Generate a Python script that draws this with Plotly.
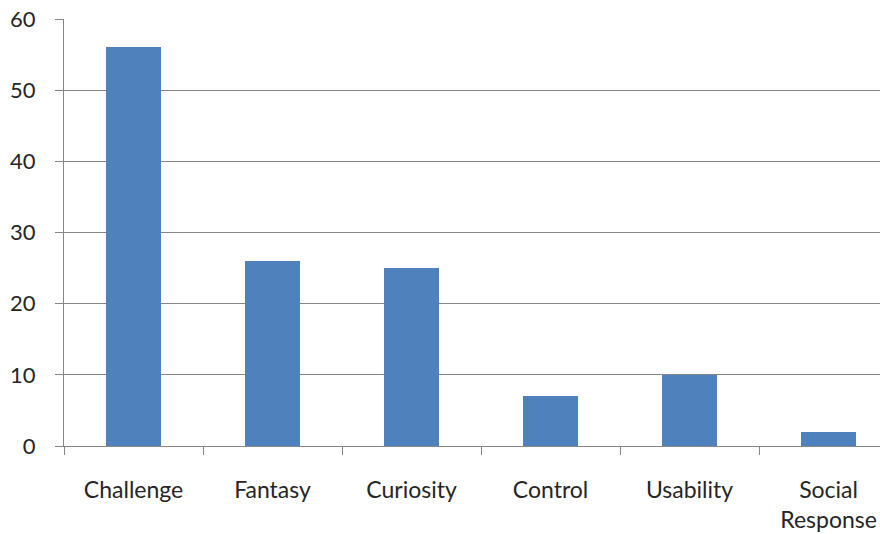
import plotly.graph_objects as go

# Motivation categories and their counts
categories = ["Challenge", "Fantasy", "Curiosity", "Control", "Usability", "Social<br>Response"]
counts = [56, 26, 25, 7, 10, 2]
y_ticks = [0, 10, 20, 30, 40, 50, 60]

BAR_COLOR = "#4F81BD"
GRID_COLOR = "#868686"
TEXT_COLOR = "#262626"
FONT = "Lato, Calibri, Carlito, sans-serif"

fig = go.Figure(
    go.Bar(
        x=categories,
        y=counts,
        marker=dict(color=BAR_COLOR, line=dict(width=0)),
        width=0.39,
    )
)

fig.update_layout(
    width=880,
    height=534,
    margin=dict(l=64, r=0, t=19, b=88),
    paper_bgcolor="white",
    plot_bgcolor="white",
    showlegend=False,
    font=dict(family=FONT, size=22, color=TEXT_COLOR),
    bargap=0,
)

fig.update_xaxes(
    type="category",
    range=[-0.5, 5.37],
    showgrid=False,
    showline=True,
    linecolor=GRID_COLOR,
    linewidth=1,
    ticks="outside",
    tickson="boundaries",
    ticklen=8,
    tickcolor=GRID_COLOR,
    tickfont=dict(family=FONT, size=23, color=TEXT_COLOR),
    ticklabelstandoff=23,
)

fig.update_yaxes(
    range=[0, 60],
    tickvals=y_ticks,
    showgrid=True,
    gridcolor=GRID_COLOR,
    gridwidth=1,
    showline=True,
    linecolor=GRID_COLOR,
    linewidth=1,
    ticks="outside",
    ticklen=8,
    tickcolor=GRID_COLOR,
    tickfont=dict(family=FONT, size=22, color=TEXT_COLOR),
    ticklabelstandoff=15,
    zeroline=False,
)

fig.write_html("out.html")
